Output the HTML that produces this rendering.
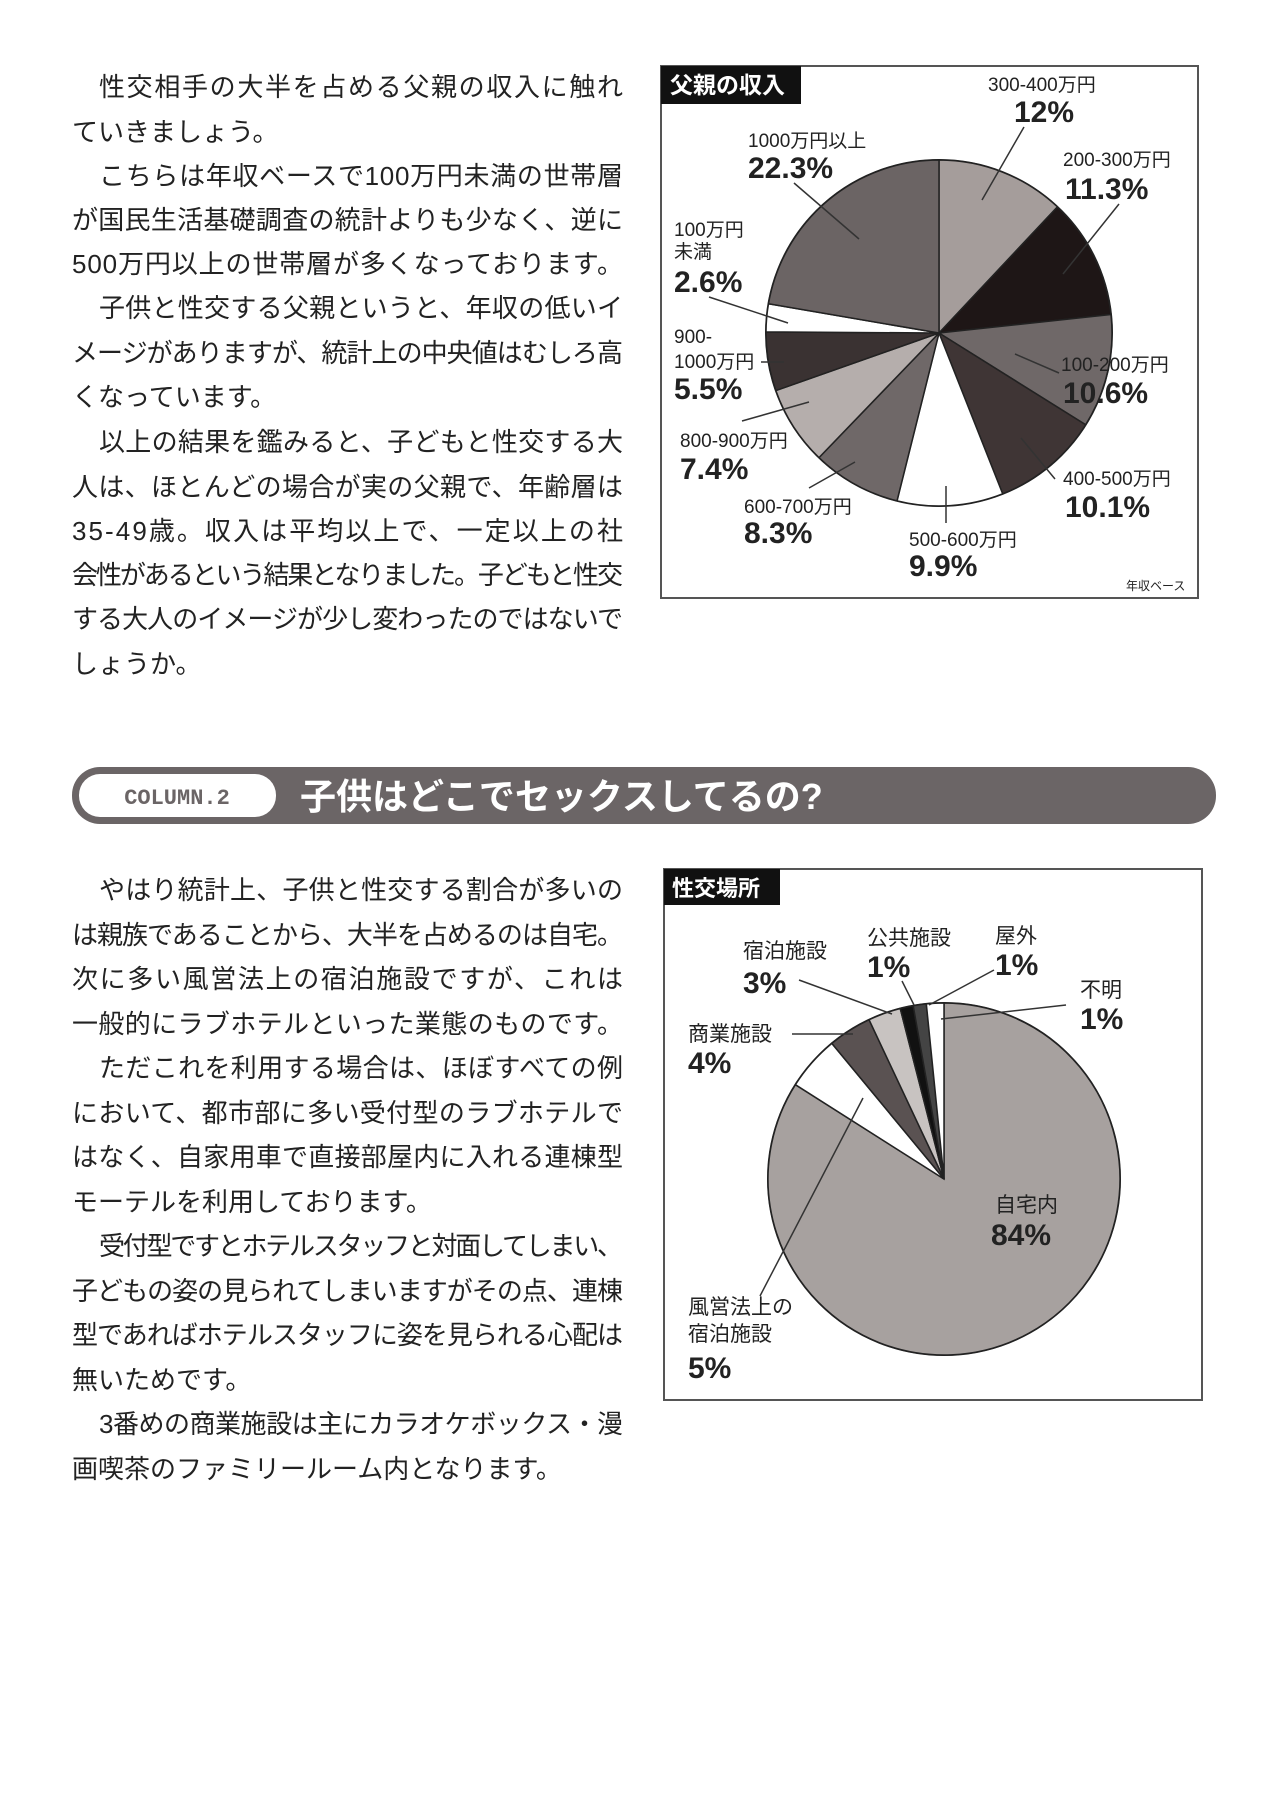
<!DOCTYPE html>
<html><head><meta charset="utf-8"><style>
html,body{margin:0;padding:0;background:#fff;}
svg{display:block;}
.t{font-family:"Liberation Sans","Noto Sans CJK JP",sans-serif;font-size:26px;fill:#222;}
.s{font-family:"Liberation Sans","Noto Sans CJK JP",sans-serif;font-size:19px;fill:#222;}
.b{font-family:"Liberation Sans","Noto Sans CJK JP",sans-serif;font-size:30px;fill:#222;font-weight:bold;}
</style></head><body>
<svg id="svg" width="1280" height="1809" viewBox="0 0 1280 1809" xmlns="http://www.w3.org/2000/svg">
<rect width="1280" height="1809" fill="#fff"/>
<g class="t">
<text x="99" y="96" textLength="524" lengthAdjust="spacing">性交相手の大半を占める父親の収入に触れ</text>
<text x="72" y="141">ていきましょう。</text>
<text x="99" y="185" textLength="524" lengthAdjust="spacing">こちらは年収ベースで100万円未満の世帯層</text>
<text x="72" y="229" textLength="551" lengthAdjust="spacing">が国民生活基礎調査の統計よりも少なく、逆に</text>
<text x="72" y="273" textLength="551" lengthAdjust="spacing">500万円以上の世帯層が多くなっております。</text>
<text x="99" y="317" textLength="524" lengthAdjust="spacing">子供と性交する父親というと、年収の低いイ</text>
<text x="72" y="362" textLength="551" lengthAdjust="spacing">メージがありますが、統計上の中央値はむしろ高</text>
<text x="72" y="406">くなっています。</text>
<text x="99" y="451" textLength="524" lengthAdjust="spacing">以上の結果を鑑みると、子どもと性交する大</text>
<text x="72" y="496" textLength="551" lengthAdjust="spacing">人は、ほとんどの場合が実の父親で、年齢層は</text>
<text x="72" y="540" textLength="551" lengthAdjust="spacing">35-49歳。収入は平均以上で、一定以上の社</text>
<text x="72" y="584" textLength="551" lengthAdjust="spacing">会性があるという結果となりました。子どもと性交</text>
<text x="72" y="628" textLength="551" lengthAdjust="spacing">する大人のイメージが少し変わったのではないで</text>
<text x="72" y="673">しょうか。</text>

<text x="99" y="899" textLength="524" lengthAdjust="spacing">やはり統計上、子供と性交する割合が多いの</text>
<text x="72" y="944" textLength="551" lengthAdjust="spacing">は親族であることから、大半を占めるのは自宅。</text>
<text x="72" y="988" textLength="551" lengthAdjust="spacing">次に多い風営法上の宿泊施設ですが、これは</text>
<text x="72" y="1033" textLength="551" lengthAdjust="spacing">一般的にラブホテルといった業態のものです。</text>
<text x="99" y="1077" textLength="524" lengthAdjust="spacing">ただこれを利用する場合は、ほぼすべての例</text>
<text x="72" y="1122" textLength="551" lengthAdjust="spacing">において、都市部に多い受付型のラブホテルで</text>
<text x="72" y="1166" textLength="551" lengthAdjust="spacing">はなく、自家用車で直接部屋内に入れる連棟型</text>
<text x="72" y="1211">モーテルを利用しております。</text>
<text x="99" y="1255" textLength="524" lengthAdjust="spacing">受付型ですとホテルスタッフと対面してしまい、</text>
<text x="72" y="1300" textLength="551" lengthAdjust="spacing">子どもの姿の見られてしまいますがその点、連棟</text>
<text x="72" y="1344" textLength="551" lengthAdjust="spacing">型であればホテルスタッフに姿を見られる心配は</text>
<text x="72" y="1389">無いためです。</text>
<text x="99" y="1433" textLength="524" lengthAdjust="spacing">3番めの商業施設は主にカラオケボックス・漫</text>
<text x="72" y="1478">画喫茶のファミリールーム内となります。</text>
</g>

<!-- header bar -->
<rect x="72" y="767" width="1144" height="57" rx="28" fill="#6b6566"/>
<rect x="79" y="774" width="197" height="43" rx="21" fill="#fff"/>
<text x="177" y="804" text-anchor="middle" font-family="Liberation Mono, monospace" font-weight="bold" font-size="22" fill="#6b6566">COLUMN.2</text>
<text x="300" y="809" font-family="Liberation Sans, Noto Sans CJK JP, sans-serif" font-weight="bold" font-size="36" fill="#fff">子供はどこでセックスしてるの?</text>

<!-- chart 1 -->
<rect x="661" y="66" width="537" height="532" fill="#fff" stroke="#555" stroke-width="2"/>
<rect x="661" y="66" width="140" height="38" fill="#111"/>
<text x="670" y="93" font-family="Liberation Sans, Noto Sans CJK JP, sans-serif" font-size="23" font-weight="bold" fill="#fff">父親の収入</text>
<g id="pie1"></g>
<g stroke="#333" stroke-width="1.5">
<line x1="1024" y1="127" x2="982" y2="200"/>
<line x1="1119" y1="204" x2="1063" y2="274"/>
<line x1="794" y1="183" x2="859" y2="239"/>
<line x1="709" y1="297" x2="788" y2="323"/>
<line x1="761" y1="362" x2="784" y2="362"/>
<line x1="742" y1="421" x2="809" y2="402"/>
<line x1="809" y1="488" x2="855" y2="462"/>
<line x1="946" y1="523" x2="946" y2="486"/>
<line x1="1055" y1="479" x2="1021" y2="438"/>
<line x1="1059" y1="373" x2="1015" y2="354"/>
</g>
<g class="s">
<text x="988" y="91">300-400万円</text>
<text x="1063" y="166">200-300万円</text>
<text x="748" y="147">1000万円以上</text>
<text x="674" y="236">100万円</text>
<text x="674" y="258">未満</text>
<text x="674" y="343">900-</text>
<text x="674" y="368">1000万円</text>
<text x="1061" y="371">100-200万円</text>
<text x="680" y="447">800-900万円</text>
<text x="1063" y="485">400-500万円</text>
<text x="744" y="513">600-700万円</text>
<text x="909" y="546">500-600万円</text>
<text x="1126" y="590" font-size="12">年収ベース</text>
</g>
<g class="b">
<text x="1014" y="122">12%</text>
<text x="1065" y="199">11.3%</text>
<text x="748" y="178">22.3%</text>
<text x="674" y="292">2.6%</text>
<text x="674" y="399">5.5%</text>
<text x="1063" y="403">10.6%</text>
<text x="680" y="479">7.4%</text>
<text x="1065" y="517">10.1%</text>
<text x="744" y="543">8.3%</text>
<text x="909" y="576">9.9%</text>
</g>

<!-- chart 2 -->
<rect x="664" y="869" width="538" height="531" fill="#fff" stroke="#555" stroke-width="2"/>
<rect x="664" y="869" width="116" height="36" fill="#111"/>
<text x="672" y="896" font-family="Liberation Sans, Noto Sans CJK JP, sans-serif" font-size="22" font-weight="bold" fill="#fff">性交場所</text>
<g id="pie2"></g>
<g stroke="#333" stroke-width="1.5">
<line x1="799" y1="980" x2="892" y2="1014"/>
<line x1="902" y1="981" x2="914" y2="1005"/>
<line x1="994" y1="970" x2="929" y2="1005"/>
<line x1="1066" y1="1005" x2="941" y2="1019"/>
<line x1="792" y1="1034" x2="853" y2="1034"/>
<line x1="760" y1="1296" x2="863" y2="1098"/>
</g>
<g class="s">
<text x="743" y="958" font-size="21">宿泊施設</text>
<text x="867" y="945" font-size="21">公共施設</text>
<text x="995" y="943" font-size="21">屋外</text>
<text x="1080" y="997" font-size="21">不明</text>
<text x="688" y="1041" font-size="21">商業施設</text>
<text x="995" y="1212" font-size="21">自宅内</text>
<text x="688" y="1314" font-size="21">風営法上の</text>
<text x="688" y="1341" font-size="21">宿泊施設</text>
</g>
<g class="b">
<text x="743" y="993">3%</text>
<text x="867" y="977">1%</text>
<text x="995" y="975">1%</text>
<text x="1080" y="1029">1%</text>
<text x="688" y="1073">4%</text>
<text x="991" y="1245">84%</text>
<text x="688" y="1378">5%</text>
</g>
</svg>
<script>
function pie(id,cx,cy,r,data){
  var g=document.getElementById(id),a=0,ns="http://www.w3.org/2000/svg";
  var c=document.createElementNS(ns,"circle");
  c.setAttribute("cx",cx);c.setAttribute("cy",cy);c.setAttribute("r",r);
  c.setAttribute("fill","#fff");c.setAttribute("stroke","#222");c.setAttribute("stroke-width","2");g.appendChild(c);
  data.forEach(function(d){
    var a0=a*Math.PI/50,a1=(a+d[0])*Math.PI/50;a+=d[0];
    var x0=cx+r*Math.sin(a0),y0=cy-r*Math.cos(a0),x1=cx+r*Math.sin(a1),y1=cy-r*Math.cos(a1);
    var p=document.createElementNS(ns,"path");
    p.setAttribute("d","M"+cx+","+cy+"L"+x0+","+y0+"A"+r+","+r+" 0 "+(d[0]>50?1:0)+" 1 "+x1+","+y1+"Z");
    p.setAttribute("fill",d[1]);p.setAttribute("stroke","#222");p.setAttribute("stroke-width","1.5");
    g.appendChild(p);
  });
}
pie("pie1",939,333,173,[[12,"#a59d9b"],[11.3,"#1e1616"],[10.6,"#6f6868"],[10.1,"#3f3535"],[9.9,"#fff"],[8.3,"#6f6868"],[7.4,"#b5aeac"],[5.5,"#3a3232"],[2.6,"#fff"],[22.3,"#6b6464"]]);
pie("pie2",944,1179,176,[[84,"#a7a19f"],[5,"#fff"],[4,"#5a5252"],[3,"#c8c3c1"],[1.2,"#111"],[1.2,"#444"],[1.6,"#fff"]]);
</script>
</body></html>
